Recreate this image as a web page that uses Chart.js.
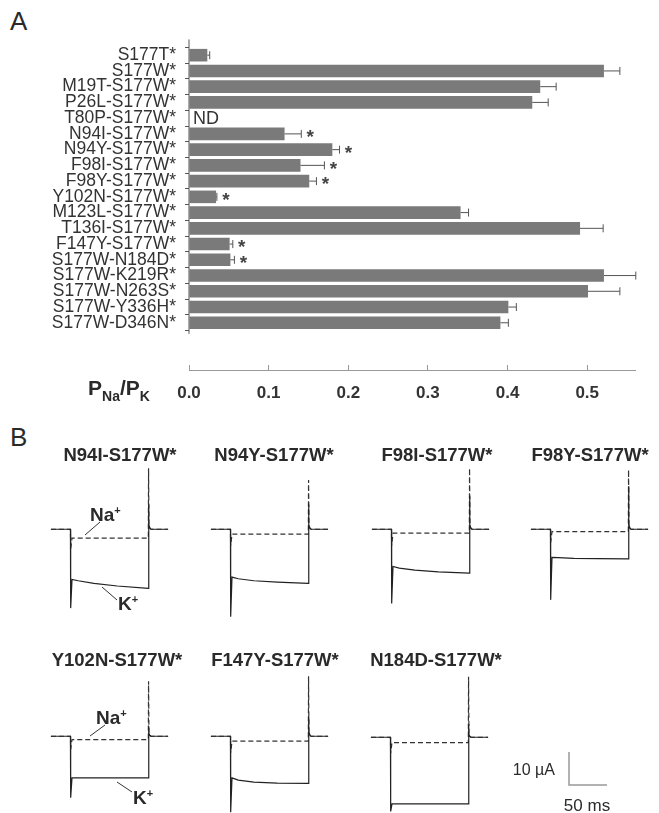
<!DOCTYPE html>
<html>
<head>
<meta charset="utf-8">
<script src="https://cdn.jsdelivr.net/npm/chart.js@4"></script>
<style>
  body { margin: 0; background: #fff; }
  #page { position: relative; width: 659px; height: 813px; overflow: hidden; font-family: 'Liberation Sans', Arial, sans-serif; color: #2a2a2a; }
  canvas { position: absolute; }
  .lbl { position: absolute; white-space: nowrap; line-height: 1; }
  .panel { font-size: 26px; }
  .ttl { font-weight: bold; font-size: 18.5px; transform: translate(-50%, -50%); }
  .ion { font-weight: bold; font-size: 19px; }
  .ion sup { font-size: 11px; vertical-align: 7px; }
  #axTitle { font-weight: bold; font-size: 21px; }
  #axTitle sub { font-size: 14px; vertical-align: -6px; }
  svg { position: absolute; left: 0; top: 0; }
</style>
</head>
<body>
<div id="page">
  <div class="lbl panel" style="left:10px; top:8px;">A</div>
  <div class="lbl panel" style="left:10px; top:424px;">B</div>
  <canvas id="barChart" width="659" height="420" style="left:0; top:0;"></canvas>
  <div class="lbl" id="axTitle" style="left:88px; top:377px;">P<sub>Na</sub>/P<sub>K</sub></div>

  <canvas id="tr1" width="125" height="165" style="left:47px; top:455px;"></canvas>
  <canvas id="tr2" width="125" height="165" style="left:207px; top:455px;"></canvas>
  <canvas id="tr3" width="125" height="165" style="left:368px; top:455px;"></canvas>
  <canvas id="tr4" width="125" height="165" style="left:527px; top:455px;"></canvas>
  <canvas id="tr5" width="125" height="165" style="left:47px; top:662px;"></canvas>
  <canvas id="tr6" width="125" height="165" style="left:207px; top:662px;"></canvas>
  <canvas id="tr7" width="125" height="165" style="left:367px; top:663px;"></canvas>

  <div class="lbl ttl" style="left:120px; top:455px;">N94I-S177W*</div>
  <div class="lbl ttl" style="left:274px; top:455px;">N94Y-S177W*</div>
  <div class="lbl ttl" style="left:437px; top:455px;">F98I-S177W*</div>
  <div class="lbl ttl" style="left:590px; top:455px;">F98Y-S177W*</div>
  <div class="lbl ttl" style="left:117px; top:660px;">Y102N-S177W*</div>
  <div class="lbl ttl" style="left:275px; top:660px;">F147Y-S177W*</div>
  <div class="lbl ttl" style="left:436px; top:660px;">N184D-S177W*</div>

  <div class="lbl ion" style="left:90px; top:505px;">Na<sup>+</sup></div>
  <div class="lbl ion" style="left:118px; top:594px;">K<sup>+</sup></div>
  <div class="lbl ion" style="left:96px; top:708px;">Na<sup>+</sup></div>
  <div class="lbl ion" style="left:133px; top:788px;">K<sup>+</sup></div>

  <svg width="659" height="813">
    <g stroke="#333" stroke-width="1" fill="none">
      <line x1="100" y1="522" x2="85" y2="535"/>
      <line x1="102" y1="587" x2="117" y2="600"/>
      <line x1="105" y1="725" x2="90" y2="736"/>
      <line x1="117" y1="782" x2="132" y2="792"/>
    </g>
    <polyline points="569,752 569,785 607,785" stroke="#999" stroke-width="1.5" fill="none"/>
  </svg>
  <div class="lbl" style="left:555px; top:770px; font-size:16px; transform:translate(-100%,-50%);">10 &micro;A</div>
  <div class="lbl" style="left:587px; top:805px; font-size:17px; transform:translate(-50%,-50%);">50 ms</div>
</div>

<script>
// Panel A data
const mutantes = ['S177T*', 'S177W*', 'M19T-S177W*', 'P26L-S177W*', 'T80P-S177W*', 'N94I-S177W*',
  'N94Y-S177W*', 'F98I-S177W*', 'F98Y-S177W*', 'Y102N-S177W*', 'M123L-S177W*', 'T136I-S177W*',
  'F147Y-S177W*', 'S177W-N184D*', 'S177W-K219R*', 'S177W-N263S*', 'S177W-Y336H*', 'S177W-D346N*'];
const pnapk = [0.023, 0.521, 0.441, 0.431, null, 0.12, 0.18, 0.14, 0.151, 0.034, 0.341, 0.491,
  0.051, 0.052, 0.521, 0.501, 0.401, 0.391];
const pnapkErr = [0.003, 0.02, 0.02, 0.02, null, 0.021, 0.009, 0.03, 0.009, 0.001, 0.01, 0.029,
  0.004, 0.005, 0.04, 0.04, 0.01, 0.01];
const filasSignif = [5, 6, 7, 8, 9, 12, 13];
const filasND = [4];
const xTicks = [0, 0.1, 0.2, 0.3, 0.4, 0.5];

// Panel B data: time (ms) and current (uA)
const tiempo = [-25, 0, 0.3, 2, 10, 30, 60, 99.7, 100, 100.5, 101.5, 103, 125];
const kN94I  = [0, 0, -23.9, -15.2, -15.6, -16.4, -17.2, -17.9, 7.5, 1.5, 0.5, 0, 0];
const naN94I = [0, 0, -6, -2.7, -2.7, -2.7, -2.7, -2.7, 18.5, 1, 0.3, 0, 0];
const kN94Y  = [0, 0, -26.5, -14.5, -15.0, -15.6, -16.0, -16.4, 7.5, 1.5, 0.5, 0, 0];
const naN94Y = [0, 0, -5, -1.5, -1.5, -1.5, -1.5, -1.5, 14.9, 1, 0.3, 0, 0];
const kF98I  = [0, 0, -22.5, -11.3, -11.8, -12.4, -12.9, -13.3, 10, 1.5, 0.5, 0, 0];
const naF98I = [0, 0, -5, -1.2, -1.2, -1.2, -1.2, -1.2, 18.5, 1, 0.3, 0, 0];
const kF98Y  = [0, 0, -21.4, -8.5, -8.6, -8.8, -8.9, -9.0, 13, 1.5, 0.5, 0, 0];
const naF98Y = [0, 0, -4, -0.7, -0.7, -0.7, -0.7, -0.7, 18, 1, 0.3, 0, 0];
const kY102N  = [0, 0, -18.6, -12.6, -12.6, -12.6, -12.6, -12.6, 3, 1, 0.3, 0, 0];
const naY102N = [0, 0, -4, -1.0, -1.0, -1.0, -1.0, -1.0, 16.7, 1, 0.3, 0, 0];
const kF147Y  = [0, 0, -23, -12.6, -13.3, -13.9, -14.2, -14.3, 6, 1.5, 0.5, 0, 0];
const naF147Y = [0, 0, -5, -1.5, -1.5, -1.5, -1.5, -1.5, 18.2, 1, 0.3, 0, 0];
const kN184D  = [0, 0, -22.5, -20.2, -20.2, -20.2, -20.2, -20.2, 4, 1, 0.3, 0, 0];
const naN184D = [0, 0, -4.8, -1.6, -1.6, -1.6, -1.6, -1.6, 18.3, 1, 0.3, 0, 0];

const fuente = "'Liberation Sans', Arial, sans-serif";

// error bars, asterisks, ND and the short y axis line
const extrasBarras = {
  id: 'extrasBarras',
  afterDatasetsDraw(chart) {
    const ctx = chart.ctx;
    const x = chart.scales.x, y = chart.scales.y;
    ctx.save();
    ctx.strokeStyle = '#555';
    ctx.lineWidth = 1;
    pnapk.forEach((v, i) => {
      if (v === null) return;
      const x1 = x.getPixelForValue(v);
      const x2 = x.getPixelForValue(v + pnapkErr[i]);
      const yc = y.getPixelForValue(i);
      ctx.beginPath();
      ctx.moveTo(x1, yc); ctx.lineTo(x2, yc);
      ctx.moveTo(x2, yc - 4); ctx.lineTo(x2, yc + 4);
      ctx.stroke();
      if (filasSignif.includes(i)) {
        ctx.fillStyle = '#444';
        ctx.font = 'bold 19px ' + fuente;
        ctx.textAlign = 'center';
        ctx.textBaseline = 'middle';
        ctx.fillText('*', x2 + 9, yc + 4);
      }
    });
    filasND.forEach(i => {
      ctx.fillStyle = '#333';
      ctx.font = '18px ' + fuente;
      ctx.textAlign = 'left';
      ctx.textBaseline = 'middle';
      ctx.fillText('ND', x.getPixelForValue(0) + 4, y.getPixelForValue(i) + 1);
    });
    ctx.strokeStyle = '#555';
    ctx.beginPath();
    ctx.moveTo(chart.chartArea.left, y.getPixelForValue(-1));
    ctx.lineTo(chart.chartArea.left, y.getPixelForValue(mutantes.length - 0.3));
    ctx.stroke();
    ctx.restore();
  }
};

new Chart(document.getElementById('barChart'), {
  type: 'bar',
  data: {
    datasets: [{
      data: pnapk.map((v, i) => ({ x: v, y: i })),
      backgroundColor: '#7a7a7a',
      borderWidth: 0,
      barPercentage: 0.8,
      categoryPercentage: 1
    }]
  },
  options: {
    indexAxis: 'y',
    responsive: false,
    animation: false,
    layout: { padding: { top: 30, right: 24, left: 0, bottom: 0 } },
    plugins: { legend: { display: false }, tooltip: { enabled: false } },
    scales: {
      x: {
        type: 'linear',
        min: 0,
        max: 0.56,
        afterFit: s => { s.height = 50; },
        afterBuildTicks: s => { s.ticks = xTicks.map(v => ({ value: v })); },
        border: { display: true, color: '#999', width: 1 },
        grid: { drawOnChartArea: false, tickLength: -5, color: '#999' },
        ticks: {
          padding: 18,
          color: '#333',
          font: { family: fuente, size: 17, weight: 'bold' },
          callback: v => v.toFixed(1)
        }
      },
      y: {
        type: 'linear',
        reverse: true,
        min: -1,
        max: 19.4,
        afterFit: s => { s.width = 189; },
        afterBuildTicks: s => { s.ticks = mutantes.map((m, i) => ({ value: i })); },
        border: { display: false },
        grid: { drawOnChartArea: false, tickLength: 4, color: '#555' },
        ticks: {
          autoSkip: false,
          padding: 9,
          color: '#333',
          font: { family: fuente, size: 17.5 },
          callback: v => mutantes[v]
        }
      }
    }
  },
  plugins: [extrasBarras]
});

function trazo(id, kVals, naVals) {
  new Chart(document.getElementById(id), {
    type: 'line',
    data: {
      datasets: [
        {
          data: tiempo.map((t, i) => ({ x: t, y: kVals[i] })),
          borderColor: '#222', borderWidth: 1.2, pointRadius: 0, tension: 0, clip: false
        },
        {
          data: tiempo.map((t, i) => ({ x: t, y: naVals[i] })),
          borderColor: '#333', borderWidth: 1.2, borderDash: [5, 3], pointRadius: 0, tension: 0, clip: false
        }
      ]
    },
    options: {
      responsive: false,
      animation: false,
      layout: { padding: 0 },
      plugins: { legend: { display: false }, tooltip: { enabled: false } },
      scales: {
        x: { type: 'linear', min: -30, max: 130, display: false },
        y: { min: -27.5, max: 22.5, display: false }
      }
    }
  });
}

trazo('tr1', kN94I, naN94I);
trazo('tr2', kN94Y, naN94Y);
trazo('tr3', kF98I, naF98I);
trazo('tr4', kF98Y, naF98Y);
trazo('tr5', kY102N, naY102N);
trazo('tr6', kF147Y, naF147Y);
trazo('tr7', kN184D, naN184D);
</script>
</body>
</html>
